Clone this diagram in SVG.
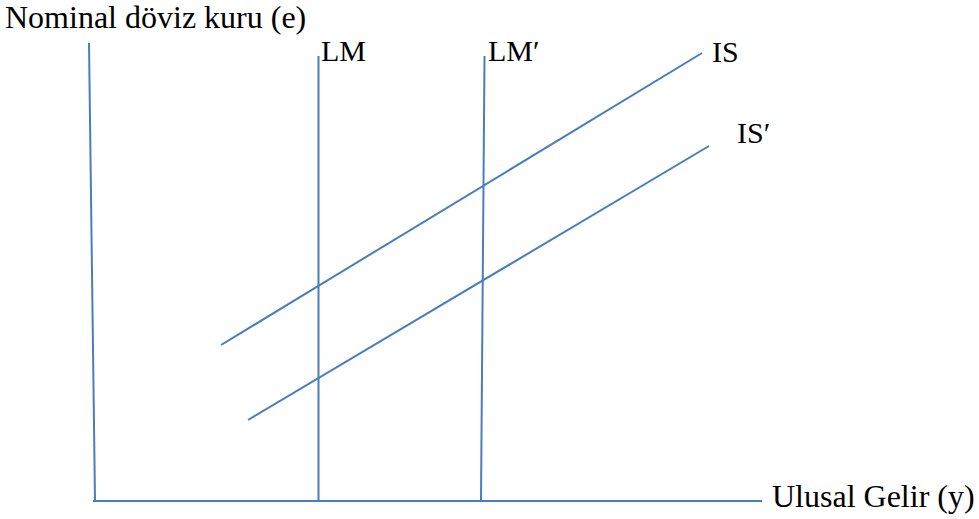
<svg xmlns="http://www.w3.org/2000/svg" width="979" height="519" viewBox="0 0 979 519">
<style>
.l{stroke:#4a7ebb;stroke-width:2;fill:none}
text{font-family:"Liberation Serif","Times New Roman",serif;font-size:30px;fill:#000}
.ax{font-size:32px}
</style>
<rect width="979" height="519" fill="#fff"/>
<g id="connectors">
<line id="y-axis" class="l" x1="89" y1="43" x2="95" y2="501"/>
<line id="x-axis" class="l" x1="93" y1="501" x2="762" y2="501"/>
<line id="LM" class="l" x1="318.5" y1="56" x2="318.5" y2="501"/>
<line id="LMp" class="l" x1="484.5" y1="56" x2="481" y2="501"/>
<line id="IS" class="l" x1="221" y1="345" x2="702" y2="53"/>
<line id="ISp" class="l" x1="248" y1="420" x2="709" y2="146"/>
</g>
<g id="label-yaxis"><text class="ax" x="5" y="28">Nominal döviz kuru (e)</text></g>
<g id="label-LM"><text x="321" y="61">LM</text></g>
<g id="label-LMp"><text x="488" y="61">LM′</text></g>
<g id="label-IS"><text x="712" y="62">IS</text></g>
<g id="label-ISp"><text x="737" y="143">IS′</text></g>
<g id="label-xaxis"><text class="ax" x="772" y="507">Ulusal Gelir (y)</text></g>
</svg>
